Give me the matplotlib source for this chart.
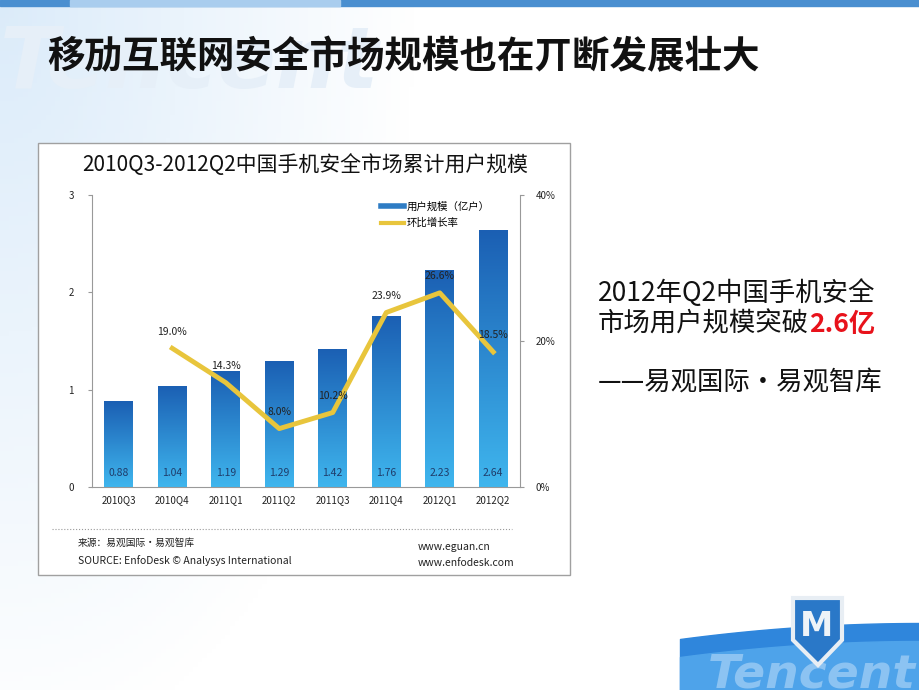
import numpy as np
import matplotlib
matplotlib.use('agg')
import matplotlib.pyplot as plt
from matplotlib.lines import Line2D
from matplotlib.patches import Rectangle, Polygon

plt.rcParams['font.family'] = ['Noto Sans CJK SC', 'DejaVu Sans']

# data
quarters = ['2010Q3', '2010Q4', '2011Q1', '2011Q2', '2011Q3', '2011Q4', '2012Q1', '2012Q2']
users = [0.88, 1.04, 1.19, 1.29, 1.42, 1.76, 2.23, 2.64]          # 亿户
growth = [None, 19.0, 14.3, 8.0, 10.2, 23.9, 26.6, 18.5]          # 环比增长率 %
y_ticks = [0, 1, 2, 3]
y2_ticks = [0, 20, 40]

W, H = 920, 690
fig = plt.figure(figsize=(9.2, 6.9), dpi=100)


def box(l, t, w, h):
    return [l / W, 1 - (t + h) / H, w / W, h / H]


# slide background
bg = fig.add_axes([0, 0, 1, 1], zorder=-10)
bg.set_xlim(0, W)
bg.set_ylim(H, 0)
bg.axis('off')
gx = np.linspace(0, 1, 200)
gy = np.linspace(0, 1, 150)
GX, GY = np.meshgrid(gx, gy)
fade = np.clip(1 - np.sqrt((GX / 0.45) ** 2 + (GY / 1.1) ** 2), 0, 1)
rgb = np.ones((150, 200, 3))
tint = np.array([0.80, 0.89, 0.97])
rgb = rgb * (1 - fade[..., None] * 0.7) + tint * fade[..., None] * 0.7
bg.imshow(rgb, extent=[0, W, H, 0], aspect='auto', zorder=0)
bg.add_patch(Rectangle((0, 0), W, 6, color='#4a8fd0', zorder=1))
bg.add_patch(Rectangle((70, 0), 270, 6, color='#a9cdee', zorder=1))
bg.text(0, 88, 'Tencent', fontsize=62, style='italic', fontweight='bold',
        color='#e6eff8', family='DejaVu Sans', zorder=1)

# bottom-right wave
wx = np.linspace(680, W, 100)
wy = 623 + 16 * ((W - wx) / 240) ** 2
bg.fill_between(wx, wy, H, color='#2f86dc', zorder=1)
bg.fill_between(wx, wy + 18, H, color='#4ea3ea', zorder=1)
bg.text(708, 688, 'Tencent', fontsize=34, style='italic', fontweight='bold',
        color='#8cc3f2', family='DejaVu Sans', zorder=2)
shield = Polygon([(793, 598), (842, 598), (842, 640), (818, 665), (793, 640)],
                 closed=True, facecolor='#2a78c8', edgecolor='#e8eef4', lw=3, zorder=3)
bg.add_patch(shield)
bg.text(817, 627, 'M', fontsize=24, fontweight='bold', color='#eef3f8',
        ha='center', va='center', family='DejaVu Sans', zorder=4)

# slide title
bg.text(47, 57, '移劢互联网安全市场规模也在丌断发展壮大', fontsize=27, fontweight='bold',
        color='#111111', va='center', ha='left', zorder=5)

# right text
bg.text(598, 293, '2012年Q2中国手机安全', fontsize=19, color='#111111', va='center', zorder=5)
t2 = bg.text(598, 324, '市场用户规模突破', fontsize=19, color='#111111', va='center', zorder=5)
bg.annotate('2.6亿', xy=(1, 0.5), xycoords=t2, fontsize=19, color='#e8121b',
            fontweight='bold', va='center', ha='left', zorder=5)
bg.text(598, 383, '——易观国际•易观智库', fontsize=19, color='#111111', va='center', zorder=5)

# chart panel
bg.add_patch(Rectangle((38, 143), 532, 432, facecolor='white', edgecolor='#a0a0a0', lw=1, zorder=4))
bg.text(305, 165, '2010Q3-2012Q2中国手机安全市场累计用户规模', fontsize=15,
        color='#111111', ha='center', va='center', zorder=5)
bg.plot([52, 512], [529, 529], ls=':', color='#9a9a9a', lw=0.8, zorder=5)
bg.text(78, 543, '来源：易观国际·易观智库', fontsize=7, color='#222222', va='center', zorder=5)
bg.text(78, 561, 'SOURCE: EnfoDesk © Analysys International', fontsize=7.5, color='#222222',
        va='center', zorder=5)
bg.text(418, 547, 'www.eguan.cn', fontsize=7.5, color='#222222', va='center', zorder=5)
bg.text(418, 563, 'www.enfodesk.com', fontsize=7.5, color='#222222', va='center', zorder=5)

# chart
ax = fig.add_axes(box(92, 195, 428, 292), zorder=5)
ax.patch.set_alpha(0)
x = np.arange(len(quarters))
bars = ax.bar(x, users, width=0.54, color='none', zorder=2)
grad = np.linspace(0, 1, 256)[:, None]
cmap = matplotlib.colors.LinearSegmentedColormap.from_list('b', ['#1b5fb3', '#3fb6ee'])
for b in bars:
    bx, by = b.get_x(), b.get_y()
    im = ax.imshow(grad, cmap=cmap, aspect='auto', zorder=2,
                   extent=[bx, bx + b.get_width(), by, by + b.get_height()])
    im.set_clip_path(b)
for i, v in enumerate(users):
    ax.annotate(f'{v:.2f}', (i, 0), xytext=(0, 10), textcoords='offset points',
                ha='center', va='center', fontsize=7.5, color='#1f3d6b', zorder=4)
ax.set_xlim(-0.5, len(quarters) - 0.5)
ax.set_ylim(0, 3)
ax.set_yticks(y_ticks)
ax.set_xticks(x)
ax.set_xticklabels(quarters)
ax.tick_params(axis='x', length=0, labelsize=7, colors='#222222', pad=6)
ax.tick_params(axis='y', length=3, labelsize=7, colors='#222222', pad=10, color='#999999')
for s in ['top', 'right']:
    ax.spines[s].set_visible(False)
for s in ['left', 'bottom']:
    ax.spines[s].set_color('#999999')

ax2 = ax.twinx()
gx_ = [i for i, g in enumerate(growth) if g is not None]
gy_ = [g for g in growth if g is not None]
ax2.plot(gx_, gy_, color='#e8c53c', lw=3.5, solid_joinstyle='round', zorder=3)
for i, g in zip(gx_, gy_):
    ax2.annotate(f'{g:.1f}%', (i, g), xytext=(0, 12), textcoords='offset points',
                 ha='center', va='center', fontsize=7.5, color='#222222', zorder=4)
ax2.set_ylim(0, 40)
ax2.set_yticks(y2_ticks)
ax2.set_yticklabels([f'{t}%' for t in y2_ticks])
ax2.tick_params(axis='y', length=3, labelsize=7, colors='#222222', pad=8, color='#999999')
for s in ['top', 'left', 'bottom']:
    ax2.spines[s].set_visible(False)
ax2.spines['right'].set_color('#999999')

handles = [Line2D([], [], color='#2e7cc4', lw=4), Line2D([], [], color='#e8c53c', lw=3)]
ax2.legend(handles, ['用户规模（亿户）', '环比增长率'], loc='upper left',
           bbox_to_anchor=(372 / W, 1 - 192 / H), bbox_transform=fig.transFigure,
           frameon=False, fontsize=7.5, handlelength=2.2, handletextpad=0.2, labelspacing=0.6)

fig.savefig('out.png', dpi=100)
